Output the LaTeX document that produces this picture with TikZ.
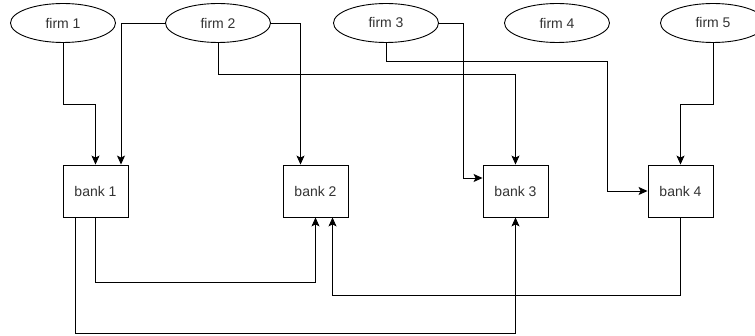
\documentclass[tikz,border=0pt]{standalone}
\usepackage{fontspec}
\setmainfont{Liberation Sans}
\usetikzlibrary{arrows.meta,shapes.geometric}

\begin{document}
\begin{tikzpicture}[x=1pt,y=-1pt,
	firm/.style={ellipse,draw,minimum width=105pt,minimum height=39pt,inner sep=0pt,text=black!80},
	bank/.style={rectangle,draw,minimum width=65pt,minimum height=52pt,inner sep=0pt,text=black!80},
	arr/.style={-{Stealth[length=9pt,width=8pt,inset=2pt]},line width=0.9pt},
	every node/.style={font=\fontsize{14}{16}\selectfont,line width=0.9pt}]
	\useasboundingbox (0,0) rectangle (755,336);
	% firms
	\foreach \n/\x in {1/63,2/218,3/386,4/557,5/713}
		\node[firm] (firm\n) at (\x,23) {firm \n};
	% banks
	\foreach \n/\x in {1/95.5,2/315.5,3/515.5,4/680.5}
		\node[bank] (bank\n) at (\x,191) {bank \n};
	% loans
	\draw[arr] (firm1.south) -- ++(0,62) -| (bank1.north);
	\draw[arr] (firm2.west) -| ([xshift=25.5pt]bank1.north);
	\draw[arr] (firm2.east) -| ([xshift=-15pt]bank2.north);
	\draw[arr] (firm2.south) -- ++(0,32) -| (bank3.north);
	\draw[arr] (firm3.east) -- ++(24,0) |- ([yshift=13pt]bank3.west);
	\draw[arr] (firm3.south) |- (607,61) |- (bank4.west);
	\draw[arr] (firm5.south) -- ++(0,62) -| (bank4.north);
	% interbank
	\draw[arr] (bank1.south) -- ++(0,65) -| (bank2.south);
	\draw[arr] ([xshift=-20pt]bank1.south) -- ++(0,116) -| (bank3.south);
	\draw[arr] (bank4.south) -- ++(0,78) -| ([xshift=17pt]bank2.south);
\end{tikzpicture}
\end{document}
